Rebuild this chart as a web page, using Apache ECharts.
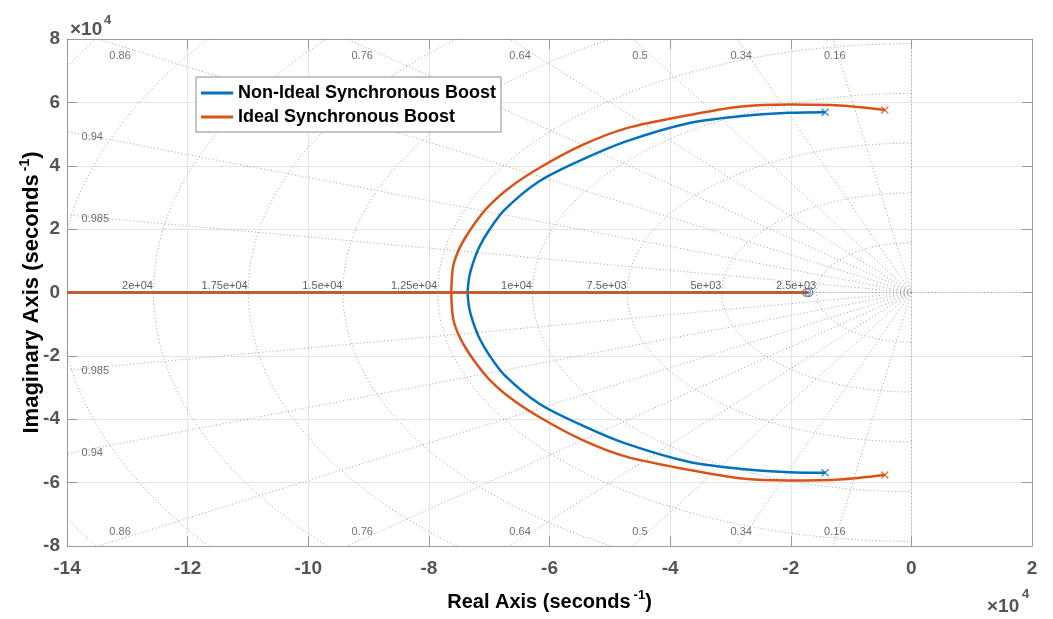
<!DOCTYPE html>
<html>
<head>
<meta charset="utf-8">
<title>Root Locus</title>
<script src="https://cdn.jsdelivr.net/npm/echarts@6/dist/echarts.min.js"></script>
<style>
  html, body { margin: 0; padding: 0; background: #ffffff; }
  #chart { width: 1053px; height: 619px; }
</style>
</head>
<body>
<div id="chart"></div>
<script>
// All coordinates are in units of 1e4 s^-1.
// Upper half-plane branch of each locus (break-in point -> complex pole).
const nonIdealRe = [-7.36, -7.33, -7.27, -7.16, -7.00, -6.75, -6.17, -5.45, -4.73, -3.68, -2.85, -2.02, -1.43];
const nonIdealIm = [0.00, 0.50, 0.92, 1.45, 1.97, 2.60, 3.51, 4.20, 4.77, 5.35, 5.56, 5.67, 5.69];
const idealRe = [-7.63, -7.60, -7.52, -7.40, -7.24, -7.02, -6.67, -6.17, -5.46, -4.73, -3.68, -2.85, -2.02, -1.19, -0.44];
const idealIm = [0.00, 0.80, 1.28, 1.72, 2.18, 2.70, 3.30, 3.93, 4.65, 5.18, 5.60, 5.86, 5.93, 5.90, 5.76];

// Real-axis zeros of each loop
const nonIdealZero = -1.70;
const idealZero = -1.74;

// s-plane grid: damping ratios and natural-frequency circles
const dampingRatios = [0.16, 0.34, 0.5, 0.64, 0.76, 0.86, 0.94, 0.985];
const dampingLabels = ['0.16', '0.34', '0.5', '0.64', '0.76', '0.86', '0.94', '0.985'];
const freqCircles = [2500, 5000, 7500, 10000, 12500, 15000, 17500, 20000, 22500, 25000];
const freqLabels = ['2.5e+03', '5e+03', '7.5e+03', '1e+04', '1.25e+04', '1.5e+04', '1.75e+04', '2e+04'];

const X_MIN = -14, X_MAX = 2, Y_MIN = -8, Y_MAX = 8;
const BLUE = '#0072BD';
const ORANGE = '#D95319';
const FONT = '"Liberation Sans", Arial, Helvetica, sans-serif';
const NAME_NON_IDEAL = 'Non-Ideal Synchronous Boost';
const NAME_IDEAL = 'Ideal Synchronous Boost';

const toRadius = f => 2 * Math.PI * f / 1e4;

const gridStyle = { color: '#a0a0a0', width: 1, type: [1, 2.5] };
const series = [];

// natural-frequency semicircles (left half-plane)
freqCircles.forEach(f => {
  const r = toRadius(f);
  const pts = [];
  for (let a = 90; a <= 270; a += 1) {
    const t = a * Math.PI / 180;
    pts.push([r * Math.cos(t), r * Math.sin(t)]);
  }
  series.push({ type: 'line', data: pts, showSymbol: false, silent: true, clip: true,
    lineStyle: gridStyle, z: 1, animation: false });
});

// constant-damping rays
dampingRatios.forEach(z => {
  const s = Math.sqrt(1 - z * z);
  [1, -1].forEach(sign => {
    series.push({ type: 'line', data: [[0, 0], [-30 * z, sign * 30 * s]], showSymbol: false,
      silent: true, clip: true, lineStyle: gridStyle, z: 1, animation: false });
  });
});
// zeta = 1 and zeta = 0 lines
series.push({ type: 'line', data: [[X_MIN, 0], [X_MAX, 0]], showSymbol: false, silent: true,
  lineStyle: gridStyle, z: 1, animation: false });
series.push({ type: 'line', data: [[0, Y_MIN], [0, Y_MAX]], showSymbol: false, silent: true,
  lineStyle: gridStyle, z: 1, animation: false });

// grid labels
const labelData = [];
dampingRatios.forEach((z, i) => {
  const s = Math.sqrt(1 - z * z);
  const topX = -Y_MAX * z / s;
  if (topX >= X_MIN) {
    const yl = 7.78;
    const xl = -yl * z / s;
    labelData.push({ value: [xl, yl], name: dampingLabels[i],
      label: { align: 'center', verticalAlign: 'top', offset: [0, 5] } });
    labelData.push({ value: [xl, -yl], name: dampingLabels[i],
      label: { align: 'center', verticalAlign: 'bottom', offset: [0, -1] } });
  } else {
    const xl = -13.75;
    const yl = -xl * s / z;
    labelData.push({ value: [xl, yl], name: dampingLabels[i],
      label: { align: 'left', verticalAlign: 'middle', offset: [0, 3] } });
    labelData.push({ value: [xl, -yl], name: dampingLabels[i],
      label: { align: 'left', verticalAlign: 'middle', offset: [0, 3] } });
  }
});
series.push({
  type: 'scatter', data: labelData, symbol: 'circle', symbolSize: 1, silent: true, z: 3,
  itemStyle: { color: 'rgba(0,0,0,0)' }, animation: false,
  label: { show: true, position: [0, 0], formatter: p => p.name, fontSize: 11,
    color: '#4a4a4a', fontFamily: FONT }
});
series.push({
  type: 'scatter', silent: true, z: 3, symbol: 'circle', symbolSize: 1,
  itemStyle: { color: 'rgba(0,0,0,0)' }, animation: false,
  data: freqLabels.map((t, i) => ({ value: [-toRadius(freqCircles[i]), 0], name: t })),
  label: { show: true, position: [0, 0], align: 'right', verticalAlign: 'bottom', offset: [0, -1],
    formatter: p => p.name, fontSize: 11, color: '#333333', fontFamily: FONT }
});

// loci
function addLocus(name, color, re, im, zero) {
  const upper = re.map((x, i) => [x, im[i]]);
  const lower = re.map((x, i) => [x, -im[i]]);
  const breakIn = re[0];
  const common = { type: 'line', name: name, showSymbol: false, silent: true, clip: true,
    lineStyle: { color: color, width: 2.5 }, itemStyle: { color: color }, z: 4,
    smooth: 0.3, animation: false };
  series.push(Object.assign({}, common, { data: upper }));
  series.push(Object.assign({}, common, { data: lower }));
  series.push(Object.assign({}, common, { smooth: false,
    data: [[X_MIN, 0], [breakIn, 0], [zero, 0]] }));
  const last = re.length - 1;
  series.push({ type: 'scatter', name: name, silent: true, z: 5, animation: false,
    symbol: 'path://M0,0L10,10M10,0L0,10', symbolSize: 7,
    itemStyle: { color: 'rgba(0,0,0,0)', borderColor: color, borderWidth: 1.3 },
    data: [[re[last], im[last]], [re[last], -im[last]]] });
  series.push({ type: 'scatter', name: name, silent: true, z: 5, animation: false,
    symbol: 'circle', symbolSize: 8,
    itemStyle: { color: 'rgba(0,0,0,0)', borderColor: color, borderWidth: 1.2 },
    data: [[zero, 0]] });
}
addLocus(NAME_NON_IDEAL, BLUE, nonIdealRe, nonIdealIm, nonIdealZero);
addLocus(NAME_IDEAL, ORANGE, idealRe, idealIm, idealZero);

const tickFont = { fontSize: 19, fontWeight: 'bold', color: '#555555', fontFamily: FONT };
const boxLine = { show: true, onZero: false, lineStyle: { color: '#9a9a9a', width: 1 } };
const boxTick = { show: true, inside: true, length: 10, lineStyle: { color: '#9a9a9a' } };
function titleRich(size) {
  return {
    n: { fontSize: size, fontWeight: 'bold', color: '#000', fontFamily: FONT, lineHeight: size + 3, verticalAlign: 'bottom' },
    s: { fontSize: Math.round(size * 0.63), fontWeight: 'bold', color: '#000', fontFamily: FONT, lineHeight: size + 3, verticalAlign: 'top', padding: [0, 0, 0, 3] }
  };
}

const option = {
  animation: false,
  backgroundColor: '#ffffff',
  grid: { left: 67, right: 21, top: 39, bottom: 73, containLabel: false },
  xAxis: [
    { type: 'value', min: X_MIN, max: X_MAX, interval: 2, position: 'bottom',
      axisLine: boxLine, axisTick: boxTick,
      axisLabel: Object.assign({ margin: 13 }, tickFont),
      splitLine: { show: true, lineStyle: { color: '#e4e4e4', width: 1 } },
      name: '{n|Real Axis (seconds}{s|-1}{n|)}', nameLocation: 'middle', nameGap: 43,
      nameMoveOverlap: false,
      nameTextStyle: { rich: titleRich(20) } },
    { type: 'value', min: X_MIN, max: X_MAX, interval: 2, position: 'top',
      axisLine: boxLine, axisTick: boxTick, axisLabel: { show: false }, splitLine: { show: false } }
  ],
  yAxis: [
    { type: 'value', min: Y_MIN, max: Y_MAX, interval: 2, position: 'left',
      axisLine: boxLine, axisTick: boxTick,
      axisLabel: Object.assign({ margin: 7 }, tickFont),
      splitLine: { show: true, lineStyle: { color: '#e4e4e4', width: 1 } },
      name: '{n|Imaginary Axis (seconds}{s|-1}{n|)}', nameLocation: 'middle', nameGap: 24,
      nameMoveOverlap: false,
      nameRotate: 90, nameTextStyle: { rich: titleRich(22) } },
    { type: 'value', min: Y_MIN, max: Y_MAX, interval: 2, position: 'right',
      axisLine: boxLine, axisTick: boxTick, axisLabel: { show: false }, splitLine: { show: false } }
  ],
  legend: {
    left: 196, top: 77, orient: 'vertical', icon: 'rect',
    itemWidth: 32, itemHeight: 3, itemGap: 6,
    padding: [7, 5, 6, 5],
    backgroundColor: '#ffffff', borderColor: '#8c8c8c', borderWidth: 1, borderRadius: 0,
    textStyle: { fontSize: 18, fontWeight: 'bold', color: '#000', fontFamily: FONT },
    selectedMode: false,
    data: [
      { name: NAME_NON_IDEAL, itemStyle: { color: BLUE } },
      { name: NAME_IDEAL, itemStyle: { color: ORANGE } }
    ]
  },
  graphic: [
    { type: 'text', left: 70, top: 20, style: { text: '×10', fontSize: 19, fontWeight: 'bold', fill: '#555555', fontFamily: FONT } },
    { type: 'text', left: 104, top: 14, style: { text: '4', fontSize: 13, fontWeight: 'bold', fill: '#555555', fontFamily: FONT } },
    { type: 'text', left: 987, top: 597, style: { text: '×10', fontSize: 19, fontWeight: 'bold', fill: '#555555', fontFamily: FONT } },
    { type: 'text', left: 1022, top: 588, style: { text: '4', fontSize: 13, fontWeight: 'bold', fill: '#555555', fontFamily: FONT } }
  ],
  series: series
};

const chart = echarts.init(document.getElementById('chart'), null, { renderer: 'canvas' });
chart.setOption(option);
</script>
</body>
</html>
